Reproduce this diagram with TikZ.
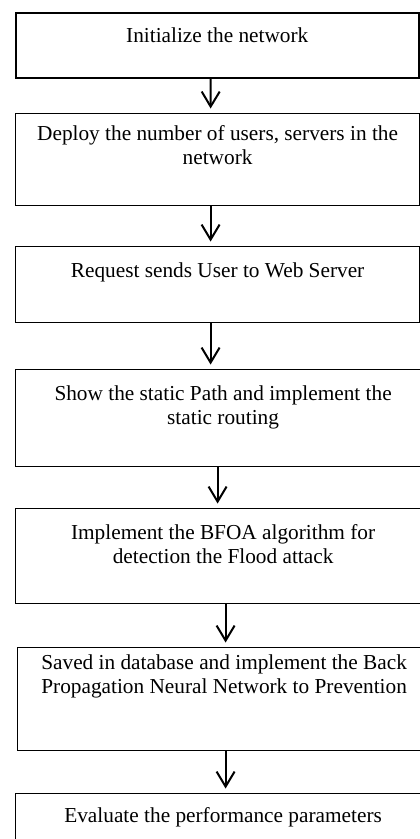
\documentclass[tikz,border=0pt]{standalone}
\usepackage{fontspec}
\setmainfont{Liberation Serif}
\usetikzlibrary{arrows.meta,calc}
\begin{document}
\begin{tikzpicture}[x=1pt,y=-1pt,
  box/.style={draw=black,line width=1.2pt,rectangle,inner sep=0pt,anchor=north west},
  txt/.style={anchor=north,inner sep=0pt,align=center,font=\fontsize{21.3}{24}\selectfont},
  arr/.style={draw=black,line width=2pt,-{Straight Barb[length=15pt,width=18pt,line width=2pt]},shorten >=4.5pt}]
\useasboundingbox (0,0) rectangle (420,839);
\clip (0,0) rectangle (420,839);
\node[box,line width=1.5pt,minimum width=403pt,minimum height=65pt] (b1) at (15,12) {};
\node[box,minimum width=404pt,minimum height=92pt] (b2) at (15,113) {};
\node[box,minimum width=404pt,minimum height=76pt] (b3) at (15,246) {};
\node[box,minimum width=415pt,minimum height=97pt] (b4) at (15,369) {};
\node[box,minimum width=415pt,minimum height=95pt] (b5) at (15,508) {};
\node[box,minimum width=413pt,minimum height=103pt] (b6) at (17,647) {};
\node[box,minimum width=415pt,minimum height=70pt] (b7) at (15,793) {};
\node[txt] (t1) at ($(b1.north)+(0,15.5)$) {Initialize the network};
\node[txt] (t2) at ($(b2.north)+(0,12.5)$) {Deploy the number of users, servers in the\\network};
\node[txt] (t3) at ($(b3.north)+(0,16.5)$) {Request sends User to Web Server};
\node[txt] (t4) at ($(b4.north)+(0,16.5)$) {Show the static Path and implement the\\static routing};
\node[txt] (t5) at ($(b5.north)+(0,16.5)$) {Implement the BFOA algorithm for\\detection the Flood attack};
\node[txt] (t6) at ($(b6.north)+(0,7.5)$) {Saved in database and implement the Back\\Propagation Neural Network to Prevention};
\node[txt] (t7) at ($(b7.north)+(0,14.5)$) {Evaluate the performance parameters};
\draw[arr] ([xshift=-6.5pt]b1.south) -- ([xshift=-7pt]b2.north);
\draw[arr] ([xshift=-7pt]b2.south) -- ([xshift=-7pt]b3.north);
\draw[arr] ([xshift=-7pt]b3.south) -- ([xshift=-12.5pt]b4.north);
\draw[arr] ([xshift=-5.5pt]b4.south) -- ([xshift=-5.5pt]b5.north);
\draw[arr] ([xshift=2.5pt]b5.south) -- ([xshift=1.5pt]b6.north);
\draw[arr] ([xshift=1.5pt]b6.south) -- ([xshift=2.5pt]b7.north);
\end{tikzpicture}
\end{document}
